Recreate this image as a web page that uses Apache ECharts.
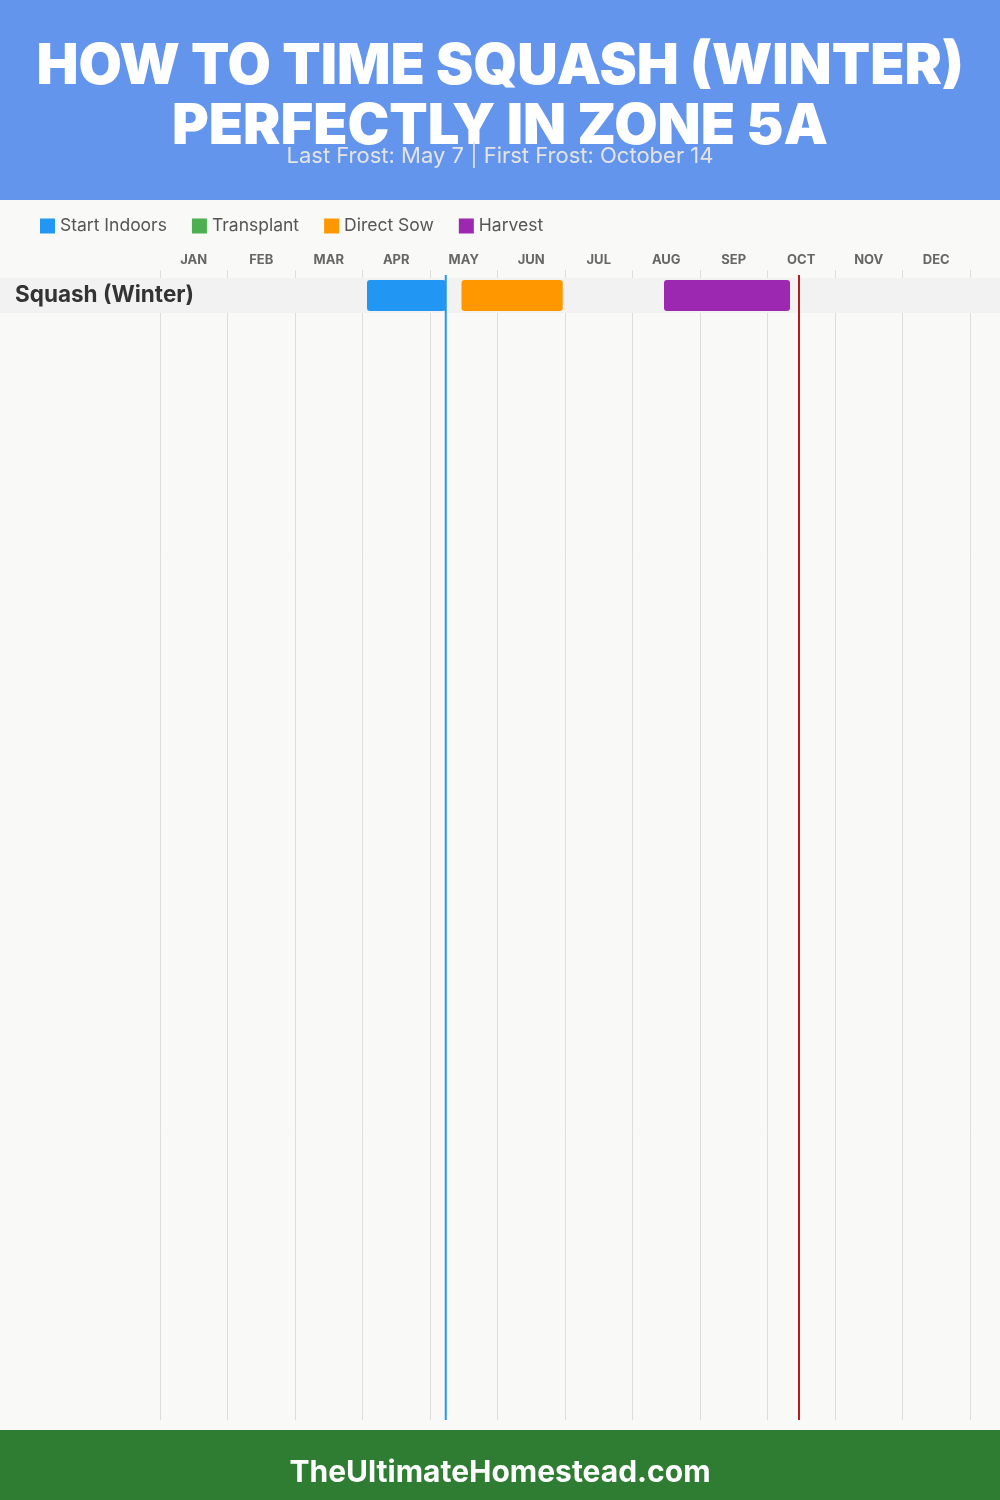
<!DOCTYPE html>
<html>
<head>
<meta charset="utf-8">
<script src="https://cdn.jsdelivr.net/npm/echarts@6/dist/echarts.min.js"></script>
<style>
html,body{margin:0;padding:0;background:#f9f9f7;}
#chart{width:1000px;height:1500px;}
</style>
</head>
<body>
<div id="chart"></div>
<script>
// ---- data ----
const titleText = 'HOW TO TIME SQUASH (WINTER)\nPERFECTLY IN ZONE 5A';
const subtitleText = 'Last Frost: May 7 | First Frost: October 14';
const footerText = 'TheUltimateHomestead.com';
const months = ['JAN','FEB','MAR','APR','MAY','JUN','JUL','AUG','SEP','OCT','NOV','DEC'];
const crops = ['Squash (Winter)'];
const activities = ['Start Indoors','Transplant','Direct Sow','Harvest'];
const activityColors = ['#2196F3','#4CAF50','#FF9800','#9C27B0'];
// [cropIndex, [startMonth, startDay], [endMonth, endDay]]
const startIndoors = [[0, [4, 2], [5, 7]]];
const transplant = [];
const directSow = [[0, [5, 14], [6, 29]]];
const harvest = [[0, [8, 14], [10, 10]]];
const lastFrost = [5, 7];
const firstFrost = [10, 14];

// month/day -> position on month axis (0..12)
function pos(md){ return (md[0] - 1) + md[1] / 30; }
function toItems(list){ return list.map(r => [r[0], pos(r[1]), pos(r[2])]); }
const activityData = [startIndoors, transplant, directSow, harvest].map(toItems);

const FONT = 'Inter, "Noto Sans", sans-serif';
const chart = echarts.init(document.getElementById('chart'), null, {renderer:'canvas'});

function barRender(params, api){
  const s = api.coord([api.value(1), api.value(0)]);
  const e = api.coord([api.value(2), api.value(0)]);
  const h = api.size([0, 1])[1] * 0.88;
  return {
    type: 'rect',
    shape: {x: s[0], y: s[1] - h / 2, width: e[0] - s[0], height: h, r: 3},
    style: {fill: api.visual('color')}
  };
}

const series = [
  {
    type: 'custom', name: 'rowband', xAxisIndex: 1, yAxisIndex: 1, z: 1, silent: true,
    data: crops.map((c, i) => [i]),
    encode: {y: 0},
    renderItem: function(params, api){
      const c = api.coord([0, api.value(0)]);
      const h = api.size([0, 1])[1];
      return {type:'rect', shape:{x:0, y:c[1]-h/2, width: api.getWidth(), height:h}, style:{fill:'#f2f2f2'}};
    }
  }
];
activities.forEach((name, k) => {
  series.push({
    type: 'custom', name: name, xAxisIndex: 1, yAxisIndex: 1, z: 3,
    itemStyle: {color: activityColors[k]},
    data: activityData[k],
    encode: {x: [1, 2], y: 0},
    renderItem: barRender
  });
});
series.push({
  type: 'custom', name: 'frost', xAxisIndex: 0, yAxisIndex: 0, z: 5, silent: true,
  data: [[pos(lastFrost), 0], [pos(firstFrost), 1]],
  encode: {x: 0},
  renderItem: function(params, api){
    const p = api.coord([api.value(0), 0]);
    const cs = params.coordSys;
    return {type:'line', shape:{x1:p[0], y1:cs.y+5, x2:p[0], y2:cs.y+cs.height},
      style:{stroke: api.value(1) === 0 ? '#2196F3' : '#B71C1C', lineWidth: 2}};
  }
});

const option = {
  backgroundColor: '#f9f9f7',
  animation: false,
  graphic: [
    {type:'rect', z:-10, shape:{x:0, y:0, width:1000, height:200}, style:{fill:'#6495ED'}},
    {type:'rect', z:-10, shape:{x:0, y:1430, width:1000, height:70}, style:{fill:'#2E7D32'}}
  ],
  title: [
    {text: titleText, left: 'center', top: 32,
     textStyle: {color:'#ffffff', fontSize: 56, fontWeight: 900, lineHeight: 60, fontFamily: FONT}},
    {text: subtitleText, left: 'center', top: 140,
     textStyle: {color:'#e4e4e4', fontSize: 22, fontWeight: 'normal', lineHeight: 22, fontFamily: FONT}},
    {text: footerText, left: 'center', top: 1453,
     textStyle: {color:'#ffffff', fontSize: 30, fontWeight: 'bold', lineHeight: 30, fontFamily: FONT}}
  ],
  legend: {
    data: activities, left: 35, top: 212, icon: 'rect', itemWidth: 15, itemHeight: 15, itemGap: 25,
    selectedMode: false,
    textStyle: {color:'#555', fontSize: 17.5, fontFamily: FONT}
  },
  grid: [
    {left: 160, right: 30, top: 270, bottom: 80},
    {left: 160, right: 30, top: 278, height: 35}
  ],
  xAxis: [
    {type:'value', gridIndex:0, min:0, max:12, interval:1,
     axisLine:{show:false}, axisTick:{show:false}, axisLabel:{show:false},
     splitLine:{show:true, lineStyle:{color:'#dddddd', width:1}}},
    {type:'value', gridIndex:1, min:0, max:12, interval:1, show:false},
    {type:'category', gridIndex:0, position:'top', data: months, boundaryGap: true,
     axisLine:{show:false}, axisTick:{show:false}, splitLine:{show:false},
     axisLabel:{color:'#666', fontSize: 13, fontWeight:'bold', margin: 3, fontFamily: FONT}}
  ],
  yAxis: [
    {type:'value', gridIndex:0, min:0, max:1, show:false},
    {type:'category', gridIndex:1, data: crops, inverse: true, z: 10,
     axisLine:{show:false}, axisTick:{show:false}, splitLine:{show:false},
     axisLabel:{align:'left', margin:145, color:'#333', fontSize:22.5, fontWeight:'bold', fontFamily: FONT, padding:[3,0,0,0]}}
  ],
  series: series
};
chart.setOption(option);
</script>
</body>
</html>
